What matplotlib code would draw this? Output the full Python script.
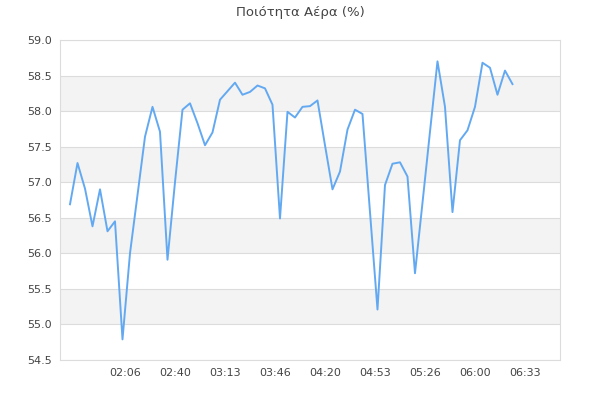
import matplotlib
matplotlib.use('Agg')
import matplotlib.pyplot as plt
import numpy as np

# readings every 5 minutes, starting at 01:30 (minutes since midnight)
start_min = 90
step_min = 5
air_quality = [
    56.69, 57.27, 56.91, 56.38, 56.90, 56.31, 56.45, 54.79, 56.00, 56.82,
    57.64, 58.06, 57.71, 55.91, 57.00, 58.02, 58.11, 57.83, 57.52, 57.70,
    58.16, 58.28, 58.40, 58.23, 58.27, 58.36, 58.32, 58.09, 56.49, 57.99,
    57.91, 58.06, 58.07, 58.15, 57.52, 56.90, 57.15, 57.74, 58.02, 57.96,
    56.58, 55.21, 56.96, 57.26, 57.28, 57.08, 55.72, 56.71, 57.71, 58.70,
    58.06, 56.58, 57.59, 57.73, 58.06, 58.68, 58.61, 58.23, 58.57, 58.38,
]
tick_labels = ['02:06', '02:40', '03:13', '03:46', '04:20',
               '04:53', '05:26', '06:00', '06:33']
tick_minutes = [126 + 2 / 3 + 100 / 3 * i for i in range(len(tick_labels))]

minutes = start_min + step_min * np.arange(len(air_quality))

fig = plt.figure(figsize=(6, 4), dpi=100)
ax = fig.add_axes([0.1, 0.1, 0.8333, 0.8])

ymin, ymax = 54.5, 59.0
# alternating background bands
for k, lo in enumerate(np.arange(ymin, ymax, 0.5)):
    if k % 2 == 1:
        ax.axhspan(lo, lo + 0.5, color='#f3f3f3', zorder=0, lw=0)
ax.grid(axis='y', color='#dcdcdc', lw=0.8, zorder=1)
ax.set_axisbelow(True)

ax.plot(minutes, air_quality, color='#63a9f2', lw=1.4, zorder=3)

ax.set_xlim(83 + 1 / 3, 416 + 2 / 3)
ax.set_ylim(ymin, ymax)
ax.set_yticks(np.arange(ymin, ymax + 0.01, 0.5))
ax.set_yticklabels(['%.1f' % v for v in np.arange(ymin, ymax + 0.01, 0.5)])
ax.set_xticks(tick_minutes)
ax.set_xticklabels(tick_labels)
ax.tick_params(length=0, labelsize=8, colors='#444444', pad=6)

for s in ax.spines.values():
    s.set_color('#dcdcdc')
    s.set_linewidth(0.8)

fig.suptitle('Ποιότητα Αέρα (%)', y=0.985, fontsize=9.5, color='#444444')

fig.savefig('out.png', dpi=100)
